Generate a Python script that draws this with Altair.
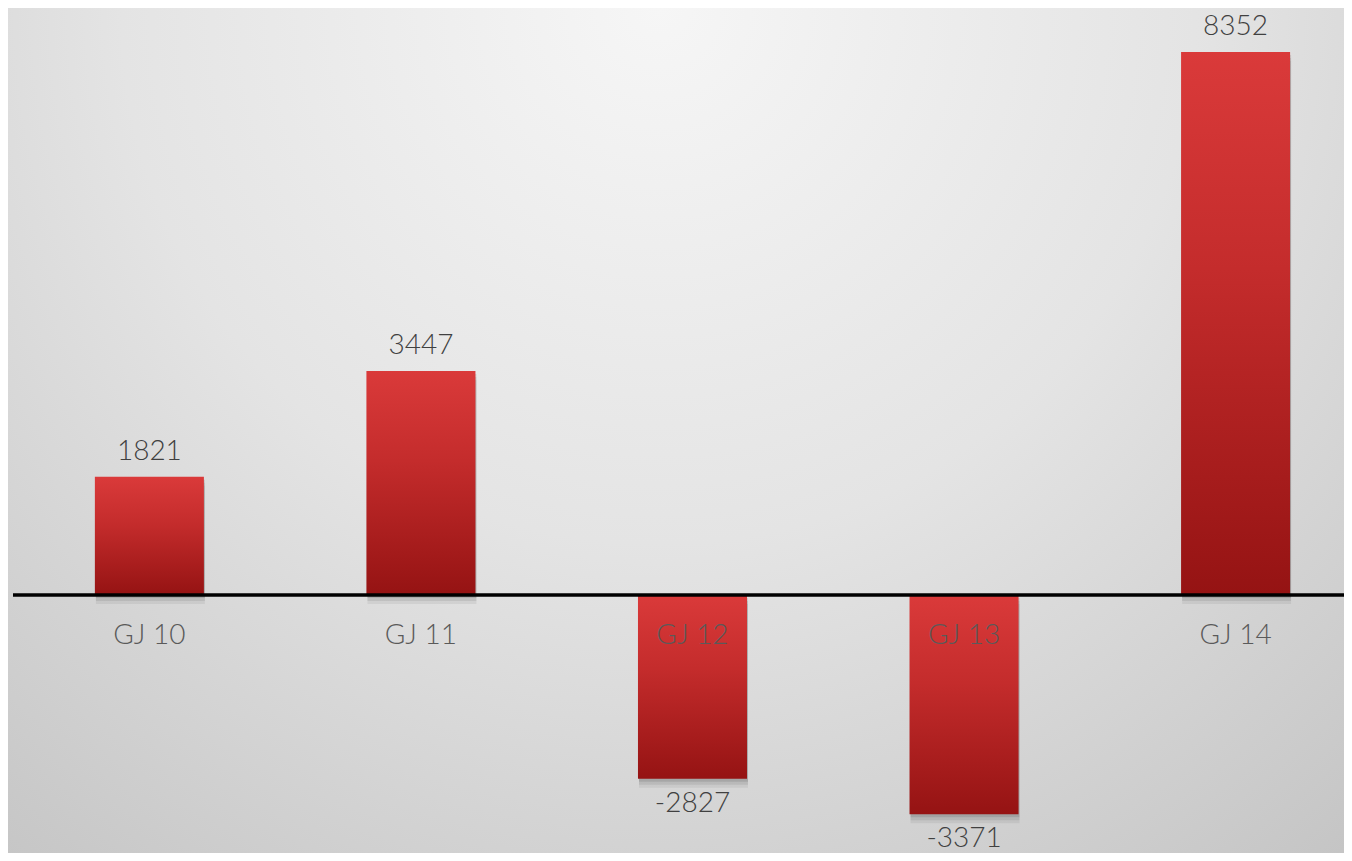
import altair as alt
import pandas as pd

categories = ["GJ 10", "GJ 11", "GJ 12", "GJ 13", "GJ 14"]
values = [1821, 3447, -2827, -3371, 8352]

df = pd.DataFrame({"cat": categories, "val": values})
df["lbl"] = [str(v) for v in values]
df["zero"] = 0

W, H = 1331, 845
FONT = "Lato"

xscale = alt.Scale(domain=categories, paddingInner=0.5985, paddingOuter=0.25, align=0.603)
yscale = alt.Scale(domain=[-3968, 9029], nice=False, zero=False)
xenc = alt.X("cat:N", scale=xscale, axis=None, sort=categories)
yenc = alt.Y("val:Q", scale=yscale, axis=None)

base = alt.Chart(df)

bg = alt.Chart(pd.DataFrame({"a": [0]})).mark_rect(
    fill=alt.Gradient(
        gradient="radial",
        stops=[
            alt.GradientStop(color="#f6f6f6", offset=0),
            alt.GradientStop(color="#e4e4e4", offset=0.45),
            alt.GradientStop(color="#bfbfbf", offset=1),
        ],
        x1=0.48, y1=0.18, r1=0, x2=0.48, y2=0.18, r2=0.88,
    )
).encode(
    x=alt.value(-5), x2=alt.value(W + 20),
    y=alt.value(0), y2=alt.value(H + 20),
)

shadows = []
for off, op in [(3, 0.10), (6, 0.08), (9, 0.06)]:
    shadows.append(
        base.mark_bar(color="#000000", opacity=op, yOffset=off, y2Offset=off, xOffset=1, x2Offset=1).encode(
            x=xenc, y=yenc, y2=alt.datum(0)
        )
    )

bars = base.mark_bar(
    fill=alt.Gradient(
        gradient="linear",
        stops=[
            alt.GradientStop(color="#da3a3a", offset=0),
            alt.GradientStop(color="#c42c2c", offset=0.4),
            alt.GradientStop(color="#951313", offset=1),
        ],
        x1=0, y1=0, x2=0, y2=1,
    )
).encode(x=xenc, y=yenc, y2=alt.datum(0))

zero = alt.Chart(pd.DataFrame({"z": [0]})).mark_rule(color="#000000", strokeWidth=3.5).encode(
    y=alt.Y("z:Q", scale=yscale, axis=None), x=alt.value(0), x2=alt.value(W + 20)
)

pos_lbl = base.transform_filter("datum.val >= 0").mark_text(
    font=FONT, fontSize=28, fontWeight=300, color="#404040", baseline="middle", dy=-25
).encode(x=xenc, y=yenc, text="lbl:N")

neg_lbl = base.transform_filter("datum.val < 0").mark_text(
    font=FONT, fontSize=28, fontWeight=300, color="#404040", baseline="middle", dy=25
).encode(x=xenc, y=yenc, text="lbl:N")

cat_lbl = base.mark_text(
    font=FONT, fontSize=28, fontWeight=300, color="#5a5a5a", baseline="middle", dy=41
).encode(x=xenc, y=alt.Y("zero:Q", scale=yscale, axis=None), text="cat:N")

chart = alt.layer(bg, *shadows, bars, zero, cat_lbl, pos_lbl, neg_lbl).properties(
    width=W, height=H, padding={"left": 5, "top": 0, "right": 0, "bottom": 0},
    background="#d6d6d6",
    autosize=alt.AutoSizeParams(type="none"),
).configure_view(stroke=None, clip=False)

chart.save("out.html", embed_options={"renderer": "svg", "actions": False})
